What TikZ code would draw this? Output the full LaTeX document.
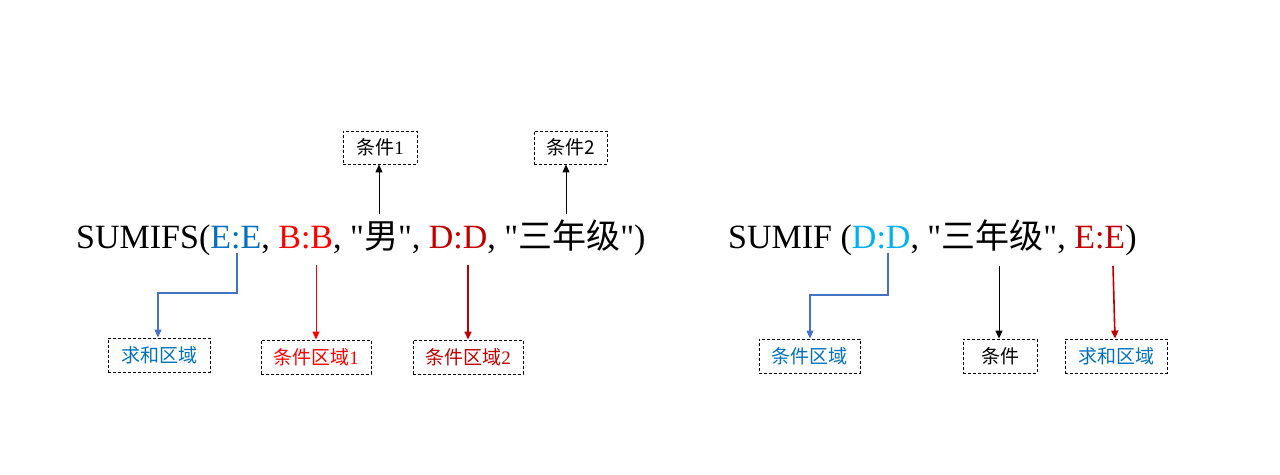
\documentclass[tikz,border=0pt]{standalone}
\usepackage{fontspec}
\setmainfont{Liberation Serif}[Ligatures=TeXOff]
\newfontfamily\cjk{Noto Sans CJK SC}
\usetikzlibrary{arrows.meta}
\definecolor{cblue}{HTML}{0070C0}
\definecolor{cred}{HTML}{FF0000}
\definecolor{dred}{HTML}{C00000}
\definecolor{lblue}{HTML}{00B0F0}
\definecolor{lineblue}{HTML}{4472C4}
\begin{document}
\begin{tikzpicture}[x=1pt,y=-1pt,
  box/.style={draw, dash pattern=on 3pt off 2pt, line width=0.9pt, inner sep=0pt,
    minimum height=34pt, font=\fontsize{19}{19}\selectfont},
  formula/.style={inner sep=0pt, anchor=base west, font=\fontsize{34}{34}\selectfont},
  conn/.style={-{Triangle[length=8pt,width=7pt]}, line width=1pt}]
\useasboundingbox (0,0) rectangle (1280,474);

% formulas
\node[formula] (f1) at (76,248.5) {SUMIFS(\textcolor{cblue}{E:E}, \textcolor{cred}{B:B}, "{\cjk 男}", \textcolor{dred}{D:D}, "{\cjk 三年级}")};
\node[formula] (f2) at (728,248.5) {SUMIF (\textcolor{lblue}{D:D}, "{\cjk 三年级}", \textcolor{dred}{E:E})};

% boxes
\node[box, minimum width=74pt, minimum height=33pt] (c1) at (380,147.5) {{\cjk 条件}1};
\node[box, minimum width=73pt, minimum height=33pt] (c2) at (570.5,147.5) {\cjk 条件2};
\node[box, minimum width=102pt, text=cblue] (s1) at (159,355) {\cjk 求和区域};
\node[box, minimum width=110pt, text=cred] (r1) at (316,357) {{\cjk 条件区域}1};
\node[box, minimum width=110pt, text=dred] (r2) at (468,357) {{\cjk 条件区域}2};
\node[box, minimum width=101pt, text=cblue] (r3) at (809.5,356) {\cjk 条件区域};
\node[box, minimum width=74pt] (c3) at (1000,356) {\cjk 条件};
\node[box, minimum width=102pt, text=cblue] (s2) at (1116,356) {\cjk 求和区域};

% connector start points on the formulas
\coordinate (pE) at (237,253);
\coordinate (pB) at (316,265);
\coordinate (pD) at (468,265);
\coordinate (pM) at (379,214);
\coordinate (pG) at (566,214);
\coordinate (qD) at (888,253);
\coordinate (qG) at (999,266);
\coordinate (qE) at (1113,266);

% connectors left
\draw[conn] (pM) -- (pM |- c1.south);
\draw[conn] (pG) -- (pG |- c2.south);
\draw[conn, lineblue, line width=1.1pt] (pE) -- (237,293) -- (158,293) -- (158,0 |- s1.north);
\draw[conn, cred] (pB) -- (pB |- r1.north);
\draw[conn, dred, line width=1.6pt] (pD) -- (pD |- r2.north);

% connectors right
\draw[conn, lineblue, line width=1.1pt] (qD) -- (888,295) -- (810,295) -- (810,0 |- r3.north);
\draw[conn] (qG) -- (qG |- c3.north);
\draw[conn, dred, line width=1.6pt] (qE) -- (1115,0 |- s2.north);
\end{tikzpicture}
\end{document}
